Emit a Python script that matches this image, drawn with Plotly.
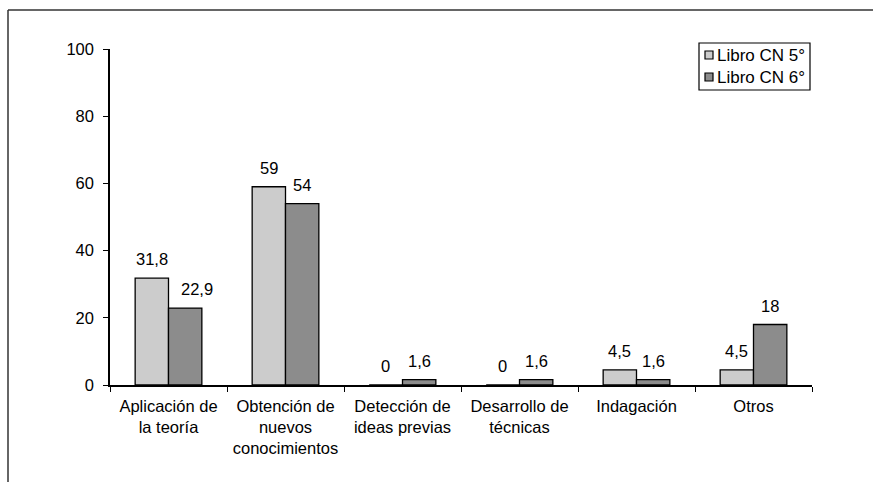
import plotly.graph_objects as go

categories = ["Aplicación de<br>la teoría", "Obtención de<br>nuevos<br>conocimientos",
              "Detección de<br>ideas previas", "Desarrollo de<br>técnicas", "Indagación", "Otros"]
series_names = ["Libro CN 5°", "Libro CN 6°"]
values_5 = [31.8, 59, 0, 0, 4.5, 4.5]
values_6 = [22.9, 54, 1.6, 1.6, 1.6, 18]
colors = ["#cccccc", "#8c8c8c"]
y_ticks = [0, 20, 40, 60, 80, 100]

FONT = "Liberation Sans, Arial"
FS = 16.5
W, H = 873, 482
ML, MR, MT, MB = 110, 61, 49, 97
PW, PH = W - ML - MR, H - MT - MB


def fmt(v):
    return ("%g" % v).replace(".", ",")


def px(x):
    return (x - ML) / PW


def py(y):
    return (H - MB - y) / PH


fig = go.Figure()
for name, vals, col in zip(series_names, [values_5, values_6], colors):
    fig.add_trace(go.Bar(
        x=categories, y=vals, name=name,
        marker=dict(color=col, line=dict(color="black", width=1.3)),
        showlegend=False,
    ))

bargap = 0.43
bar_px = PW / len(categories) * (1 - bargap) / 2
# label nudged sideways in the original: (series, index) -> extra x shift in px
label_nudge = {(1, 0): 12}
annotations = []
for k, vals in enumerate([values_5, values_6]):
    shift = (k - 0.5) * bar_px
    for i, (c, v) in enumerate(zip(categories, vals)):
        annotations.append(dict(x=c, y=v, xref="x", yref="y", text=fmt(v), showarrow=False,
                                xshift=shift + label_nudge.get((k, i), 0), yshift=8,
                                yanchor="bottom",
                                font=dict(family=FONT, size=FS, color="black")))

# legend (drawn box with swatches and real text)
legend_rows = [55, 77]
shapes = [
    dict(type="line", xref="paper", yref="paper", x0=px(8), x1=px(873), y0=py(10), y1=py(10),
         line=dict(color="#333333", width=1.5)),
    dict(type="line", xref="paper", yref="paper", x0=px(8), x1=px(8), y0=py(10), y1=py(482),
         line=dict(color="#333333", width=1.5)),
    dict(type="rect", xref="paper", yref="paper", x0=px(699), x1=px(810), y0=py(43), y1=py(90),
         line=dict(color="black", width=1.2), fillcolor="white"),
]
for name, col, ry in zip(series_names, colors, legend_rows):
    shapes.append(dict(type="rect", xref="paper", yref="paper", x0=px(705), x1=px(713),
                       y0=py(ry - 4), y1=py(ry + 4), line=dict(color="black", width=1.2),
                       fillcolor=col))
    annotations.append(dict(x=px(715), y=py(ry), xref="paper", yref="paper", text=name,
                            showarrow=False, xanchor="left", yanchor="middle",
                            font=dict(family=FONT, size=17, color="black")))

fig.update_layout(
    width=W, height=H,
    margin=dict(l=ML, r=MR, t=MT, b=MB),
    paper_bgcolor="white", plot_bgcolor="white",
    barmode="group", bargap=bargap, bargroupgap=0,
    font=dict(family=FONT, size=FS, color="black"),
    showlegend=False,
    xaxis=dict(showline=True, linecolor="black", linewidth=1.5,
               ticks="outside", tickson="boundaries", ticklen=5, tickcolor="black",
               ticklabelstandoff=5, tickfont=dict(size=FS)),
    yaxis=dict(range=[0, 100], tickvals=y_ticks, showline=True, linecolor="black",
               linewidth=1.5, ticks="outside", ticklen=5, tickcolor="black",
               ticklabelstandoff=6,
               showgrid=False, zeroline=False, tickfont=dict(size=FS)),
    shapes=shapes,
    annotations=annotations,
)

fig.write_html("out.html")
